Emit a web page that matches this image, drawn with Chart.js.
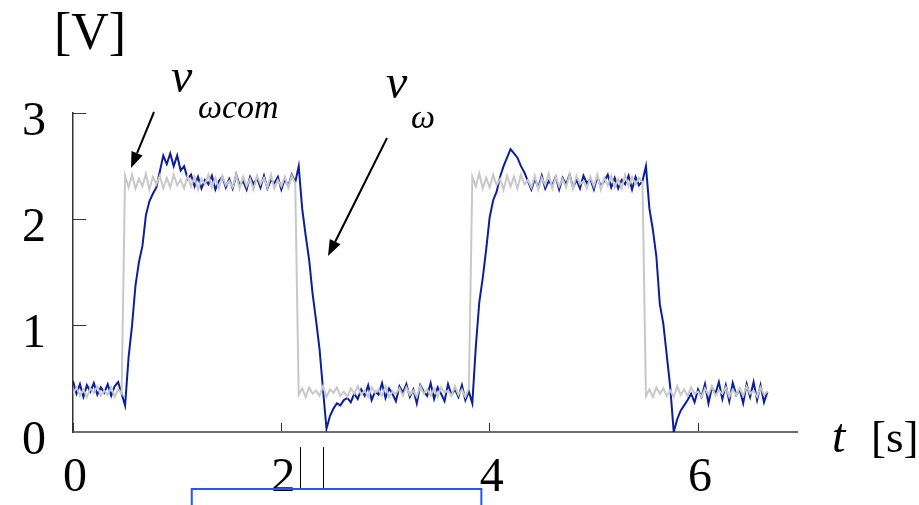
<!DOCTYPE html>
<html>
<head>
<meta charset="utf-8">
<script src="https://cdn.jsdelivr.net/npm/chart.js@4.4.1/dist/chart.umd.min.js"></script>
<style>
  html, body { margin: 0; padding: 0; background: #fff; }
  #wrap { width: 919px; height: 505px; }
</style>
</head>
<body>
<div id="wrap"><canvas id="scope"></canvas></div>
<script>
// sampling step of the recorded traces [s]
var dt = 1 / 30;

// command voltage v_wcom [V]
var vCom = [
  0.36,0.42,0.34,0.40,0.33,0.41,0.37,0.43,0.34,0.39,0.35,0.42,0.33,0.40,0.36,
  2.41,2.30,2.42,2.29,2.38,2.31,2.43,2.28,2.40,2.33,
  2.41,2.29,2.39,2.30,2.42,2.32,2.37,2.29,2.41,2.31,
  2.40,2.28,2.38,2.33,2.42,2.30,2.39,2.29,2.41,2.32,
  2.36,2.30,2.42,2.29,2.40,2.31,2.38,2.28,2.41,2.33,
  2.39,2.30,2.42,2.29,2.37,2.31,2.40,2.30,2.41,2.34,
  0.35,0.41,0.33,0.42,0.36,0.39,0.34,0.43,0.33,0.40,
  0.37,0.42,0.34,0.38,0.33,0.41,0.36,0.43,0.35,0.39,
  0.33,0.42,0.37,0.40,0.34,0.43,0.33,0.38,0.36,0.41,
  0.34,0.42,0.35,0.39,0.33,0.43,0.36,0.40,0.34,0.41,
  0.33,0.42,0.37,0.39,0.34,0.43,0.35,0.40,0.33,0.41,
  2.40,2.31,2.43,2.29,2.39,2.30,2.42,2.32,2.38,2.28,
  2.41,2.31,2.40,2.29,2.42,2.33,2.37,2.30,2.41,2.28,
  2.39,2.32,2.43,2.29,2.40,2.31,2.38,2.30,2.42,2.29,
  2.41,2.33,2.36,2.29,2.40,2.31,2.42,2.28,2.39,2.32,
  2.41,2.30,2.38,2.29,2.42,2.31,2.40,2.33,2.39,2.35,
  0.34,0.40,0.33,0.42,0.36,0.41,0.34,0.39,0.33,0.43,
  0.35,0.40,0.34,0.42,0.36,0.38,0.33,0.41,0.35,0.43,
  0.34,0.39,0.36,0.42,0.33,0.40,0.35,0.41,0.34,0.43,
  0.36,0.39,0.33,0.42,0.35,0.38
];

// measured voltage v_w [V]
var vOmega = [
  0.48,0.36,0.45,0.33,0.44,0.38,0.46,0.35,0.42,0.37,0.45,0.34,0.43,0.47,0.36,
  0.25,0.70,1.00,1.38,1.60,1.75,2.04,2.17,2.24,2.30,
  2.45,2.60,2.52,2.62,2.50,2.60,2.46,2.50,2.38,2.42,
  2.31,2.40,2.29,2.37,2.33,2.41,2.28,2.36,2.40,2.30,
  2.38,2.29,2.42,2.32,2.36,2.28,2.40,2.33,2.39,2.30,
  2.41,2.29,2.37,2.34,2.40,2.28,2.38,2.31,2.42,2.35,
  2.50,2.10,1.85,1.62,1.30,1.05,0.78,0.40,0.03,0.15,
  0.22,0.27,0.25,0.30,0.32,
  0.28,0.36,0.31,0.40,0.34,0.44,0.30,0.38,0.35,0.46,
  0.32,0.41,0.36,0.29,0.43,0.37,0.45,0.33,0.40,0.27,
  0.44,0.38,0.34,0.46,0.31,0.42,0.36,0.29,0.45,0.35,
  0.40,0.33,0.44,0.30,0.38,
  0.27,0.80,1.22,1.45,1.72,2.02,2.18,2.26,2.40,2.50,
  2.58,2.66,2.62,2.58,2.50,2.44,2.36,2.28,
  2.38,2.30,2.41,2.29,2.36,2.32,2.40,2.28,2.39,2.33,
  2.42,2.30,2.37,2.29,2.41,2.34,2.38,2.28,2.40,2.31,
  2.36,2.42,2.30,2.39,2.29,2.37,2.33,2.41,2.28,2.40,
  2.32,2.36,
  2.50,2.10,1.90,1.65,1.20,1.02,0.72,0.42,0.00,0.12,
  0.20,0.25,0.30,0.36,
  0.28,0.40,0.33,0.45,0.27,0.42,0.36,0.47,0.31,0.44,
  0.29,0.46,0.35,0.40,0.27,0.45,0.33,0.47,0.30,0.44,
  0.28,0.38
];

var xTickLabels = ['0', '2', '4', '6'];
var yTickLabels = ['0', '1', '2', '3'];

function toPoints(arr) {
    return arr.map(function (v, i) { return { x: i * dt, y: v }; });
}

var serif = '"Liberation Serif", "Times New Roman", serif';

var annotations = {
    id: 'annotations',
    afterDraw: function (chart) {
        var ctx = chart.ctx;
        var xs = chart.scales.x;
        ctx.save();
        ctx.fillStyle = '#000';
        ctx.textBaseline = 'alphabetic';
        ctx.textAlign = 'left';

        ctx.font = '52px ' + serif;
        ctx.fillText('[V]', 54, 49);

        ctx.font = 'italic 48px ' + serif;
        ctx.fillText('v', 171, 92);
        ctx.fillText('v', 386, 98);
        ctx.fillText('t', 832, 452);
        ctx.font = '45px ' + serif;
        ctx.fillText('[s]', 871, 452);
        ctx.font = 'italic 34px ' + serif;
        ctx.fillText('\u03c9com', 198, 118);
        ctx.fillText('\u03c9', 411, 128);

        function arrow(x1, y1, x2, y2) {
            var a = Math.atan2(y2 - y1, x2 - x1);
            var hl = 16, hw = 6;
            var bx = x2 - hl * Math.cos(a), by = y2 - hl * Math.sin(a);
            ctx.strokeStyle = '#000';
            ctx.lineWidth = 2;
            ctx.beginPath();
            ctx.moveTo(x1, y1);
            ctx.lineTo(bx, by);
            ctx.stroke();
            ctx.beginPath();
            ctx.moveTo(x2, y2);
            ctx.lineTo(bx + hw * Math.sin(a), by - hw * Math.cos(a));
            ctx.lineTo(bx - hw * Math.sin(a), by + hw * Math.cos(a));
            ctx.closePath();
            ctx.fill();
        }
        arrow(154, 112, 131, 168);
        arrow(387, 138, 328, 256);

        // cursor marks below the axis
        ctx.strokeStyle = '#000';
        ctx.lineWidth = 1;
        [2.18, 2.40].forEach(function (t) {
            var px = Math.round(xs.getPixelForValue(t)) + 0.5;
            ctx.beginPath();
            ctx.moveTo(px, 447);
            ctx.lineTo(px, 488);
            ctx.stroke();
        });
        var l = xs.getPixelForValue(1.14), r = xs.getPixelForValue(3.92);
        ctx.strokeStyle = '#2255ff';
        ctx.lineWidth = 2;
        ctx.beginPath();
        ctx.moveTo(l, 510);
        ctx.lineTo(l, 489);
        ctx.lineTo(r, 489);
        ctx.lineTo(r, 510);
        ctx.stroke();
        ctx.restore();
    }
};

new Chart(document.getElementById('scope').getContext('2d'), {
    type: 'line',
    data: {
        datasets: [
            {
                label: 'v_wcom',
                data: toPoints(vCom),
                borderColor: '#c8c8c8',
                borderWidth: 2,
                pointRadius: 0,
                tension: 0
            },
            {
                label: 'v_w',
                data: toPoints(vOmega),
                borderColor: '#0b1f9e',
                borderWidth: 2,
                pointRadius: 0,
                tension: 0
            }
        ]
    },
    options: {
        responsive: true,
        maintainAspectRatio: false,
        animation: false,
        layout: { padding: { top: 113, right: 122, left: 0, bottom: 0 } },
        plugins: {
            legend: { display: false },
            tooltip: { enabled: false }
        },
        scales: {
            x: {
                type: 'linear',
                min: 0,
                max: 6.95,
                afterFit: function (s) { s.height = 73; },
                border: { color: '#6e6e6e', width: 2 },
                grid: { drawOnChartArea: false, tickLength: -9, color: '#333', lineWidth: 1 },
                ticks: {
                    stepSize: 2,
                    includeBounds: false,
                    padding: 27,
                    labelOffset: 2,
                    color: '#000',
                    font: { family: serif, size: 48 },
                    callback: function (v) { return xTickLabels[v / 2]; }
                }
            },
            y: {
                min: 0,
                max: 3,
                afterFit: function (s) { s.width = 73; },
                border: { color: '#333', width: 1.5 },
                grid: { drawOnChartArea: false, tickLength: -13, color: '#333', lineWidth: 1 },
                ticks: {
                    stepSize: 0.5,
                    padding: 40,
                    labelOffset: 9,
                    color: '#000',
                    font: { family: serif, size: 48 },
                    callback: function (v) { return Number.isInteger(v) ? yTickLabels[v] : ''; }
                }
            }
        }
    },
    plugins: [annotations]
});
</script>
</body>
</html>
